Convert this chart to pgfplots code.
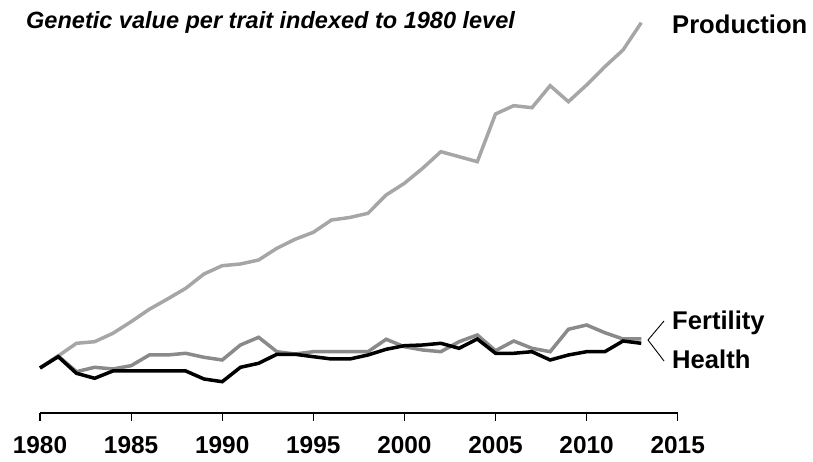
\documentclass[border=0pt]{standalone}
\usepackage{fontspec}
\setmainfont{Liberation Sans}
\usepackage{pgfplots}
\pgfplotsset{compat=1.18}
\usepackage{pgfplotstable}
\definecolor{prodc}{RGB}{166,166,166}
\definecolor{fertc}{RGB}{138,138,138}
\pgfplotstableread{
year prod fert health
1980 0 0 0
1981 12 12 11.3
1982 24.7 -3.7 -5.3
1983 26.3 0.7 -10.3
1984 34.7 -1 -3
1985 46.3 2.3 -3
1986 58.7 13 -3
1987 69 13 -3
1988 79.7 14.7 -3
1989 94 10.7 -11
1990 102.3 8 -13.7
1991 104 23 0.7
1992 108 30.7 4.7
1993 119.7 16.3 13.7
1994 128.7 14 13.7
1995 135.7 16.3 11.3
1996 148 16.3 9
1997 150.5 16.3 9
1998 154.7 16.3 13
1999 173 28.7 18.7
2000 184.7 21.3 22.3
2001 199.7 18 23
2002 216.3 16.3 24.7
2003 211.3 26.3 19.7
2004 206.3 33 29
2005 254 17.3 14.7
2006 262.3 27 14.7
2007 260.3 19.7 16.3
2008 282.3 16.3 8
2009 266.3 38.7 13
2010 283 43 16.3
2011 301.3 35.3 16.3
2012 318 29 27
2013 345.3 29 24.7
}\datatable
\begin{document}
\begin{tikzpicture}[x=1bp,y=1bp]
\useasboundingbox (0,0) rectangle (813,462);
\begin{axis}[
  at={(40bp,49bp)}, anchor=south west,
  scale only axis, width=637.7bp, height=398bp,
  xmin=1980, xmax=2015, ymin=-45, ymax=353,
  axis x line=bottom, axis y line=none,
  axis line style={-, line width=1.2bp},
  xtick={1980,1985,...,2015},
  tick align=outside, major tick length=8bp,
  tick style={line width=1.2bp, black},
  xticklabel style={font=\fontsize{24.5}{24.5}\selectfont\bfseries, anchor=base, yshift=-33bp},
  /pgf/number format/1000 sep={},
  /pgf/number format/assume math mode=true,
  clip=false,
]
\addplot[prodc, line width=3.5bp] table[x=year,y=prod] {\datatable};
\addplot[fertc, line width=3.5bp] table[x=year,y=fert] {\datatable};
\addplot[black, line width=3.5bp] table[x=year,y=health] {\datatable};
\end{axis}
\node[anchor=base west, inner sep=0] at (26,433.5) {\fontsize{23.6}{23.6}\selectfont\bfseries\itshape Genetic value per trait indexed to 1980 level};
\node[anchor=base west, inner sep=0] at (672,428.7) {\fontsize{25.7}{25.7}\selectfont\bfseries Production};
\node[anchor=base west, inner sep=0] at (672,132) {\fontsize{25.7}{25.7}\selectfont\bfseries Fertility};
\node[anchor=base west, inner sep=0] at (672,93) {\fontsize{25.7}{25.7}\selectfont\bfseries Health};
\draw[line width=0.9bp] (664,141) -- (648,122) -- (664,101);
\end{tikzpicture}
\end{document}
